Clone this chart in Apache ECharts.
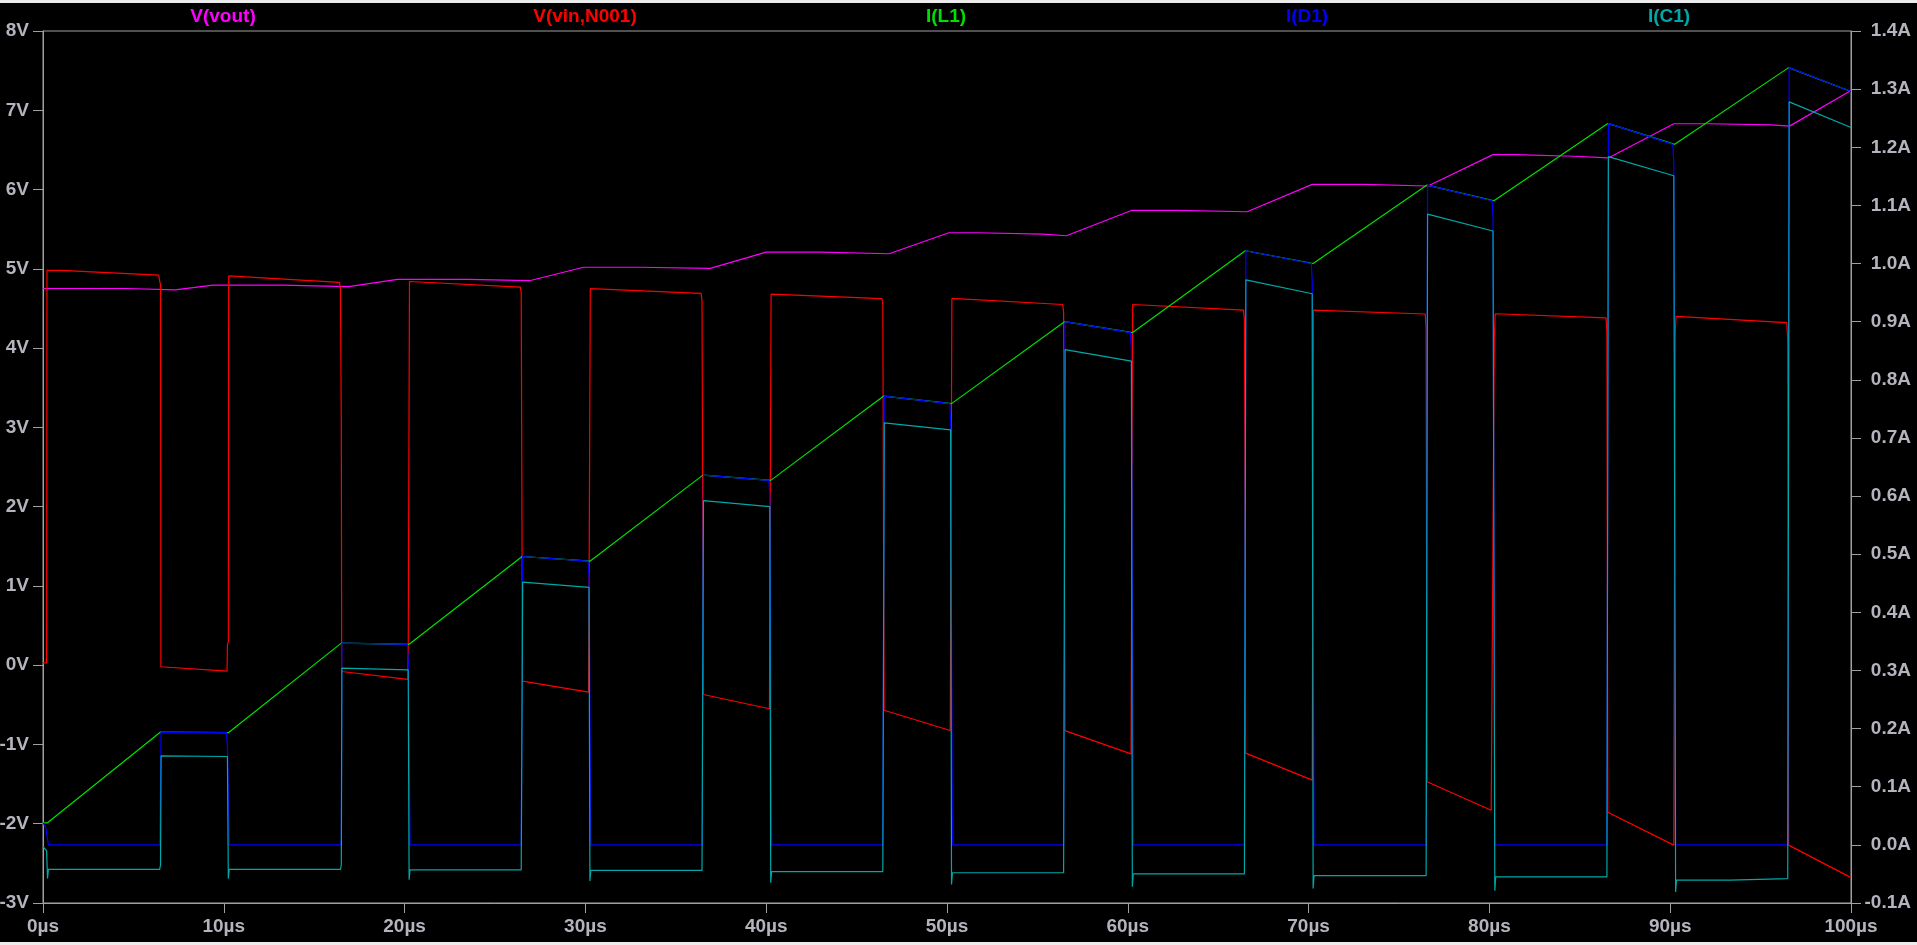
<!DOCTYPE html>
<html>
<head>
<meta charset="utf-8">
<script src="https://cdn.jsdelivr.net/npm/echarts@6/dist/echarts.min.js"></script>
<style>
  html, body { margin: 0; padding: 0; background: #ececec; width: 1917px; height: 945px; overflow: hidden; }
  #chart { position: absolute; left: 0; top: 3px; width: 1917px; height: 939px; background: #000; }
</style>
</head>
<body>
<div id="chart"></div>
<script>
// ---- Data (time in µs) ----
const xTicks = [0, 10, 20, 30, 40, 50, 60, 70, 80, 90, 100];
const traceNames = ['V(vout)', 'V(vin,N001)', 'I(L1)', 'I(D1)', 'I(C1)'];
const traceColors = ['#ff00ff', '#ff0000', '#00e000', '#0000ff', '#00a8a8'];

// V(vout) [t, V]
const vout = [[0,4.752],[4.6,4.752],[4.65,4.735],[7.3,4.735],[9.4,4.794],[13.2,4.794],[13.3,4.775],[16.9,4.775],
  [19.6,4.866],[23.5,4.866],[23.6,4.85],[26.9,4.85],[29.9,5.02],[33.0,5.02],[33.1,5.005],[36.9,5.005],
  [40.0,5.21],[43.0,5.21],[43.1,5.19],[46.8,5.19],[50.1,5.455],[51.7,5.455],[51.8,5.437],[55.3,5.437],
  [55.4,5.417],[56.6,5.417],[60.2,5.736],[62.7,5.736],[62.8,5.72],[66.6,5.72],[70.2,6.065],[73.0,6.065],
  [73.1,6.045],[76.6,6.045],[80.2,6.44],[81.4,6.44],[81.5,6.42],[84.7,6.42],[84.8,6.40],[86.6,6.40],
  [90.2,6.83],[92.2,6.83],[92.3,6.817],[95.6,6.817],[95.7,6.80],[96.6,6.80],[100,7.25]];

// V(vin,N001) [t, V]
const vinN001 = [[0,0.03],[0.2,0.03],[0.22,4.98],[1.0,4.98],[6.4,4.92],[6.45,4.85],[6.5,4.8],[6.52,-0.02],
  [10.18,-0.075],[10.2,0.25],[10.25,0.3],[10.27,4.91],
  [16.4,4.83],[16.45,4.75],[16.5,3.0],[16.52,-0.08],[20.18,-0.18],[20.2,0.2],[20.27,4.84],
  [26.4,4.77],[26.45,4.7],[26.52,-0.2],[30.18,-0.34],[30.27,4.75],
  [36.4,4.69],[36.45,4.6],[36.52,-0.37],[40.18,-0.55],[40.27,4.68],
  [46.4,4.625],[46.45,4.55],[46.52,-0.568],[50.18,-0.824],[50.27,4.626],
  [56.4,4.55],[56.45,4.45],[56.52,-0.826],[60.18,-1.118],[60.27,4.55],
  [66.4,4.48],[66.45,4.35],[66.52,-1.11],[70.2,-1.45],[70.27,4.48],
  [76.45,4.43],[76.5,4.25],[76.55,-1.47],[80.1,-1.83],[80.2,-1.83],[80.27,4.1],[80.32,4.433],
  [86.45,4.38],[86.5,4.2],[86.55,-1.855],[90.2,-2.27],[90.27,4.13],[90.32,4.40],
  [96.45,4.32],[96.5,4.1],[96.55,-2.27],[100,-2.68]];

// I(L1) [t, A]
const iL1 = [[0,0.038],[0.25,0.038],[6.5,0.194],[10.25,0.193],[16.5,0.347],[20.25,0.345],[26.5,0.496],[30.25,0.488],
  [36.5,0.636],[40.25,0.627],[46.5,0.772],[50.25,0.759],[56.5,0.900],[60.25,0.881],[66.5,1.022],[70.25,1.000],
  [76.55,1.135],[80.25,1.108],[86.55,1.241],[90.25,1.205],[96.55,1.337],[100,1.296]];

// I(D1) [t, A]
const iD1 = [[0,0.038],[0.15,0.03],[0.3,0.0],[6.45,0.0],[6.5,0.09],[6.53,0.194],[10.15,0.193],[10.2,0.17],[10.3,0.0],
  [16.45,0],[16.5,0.01],[16.53,0.347],[20.15,0.345],[20.2,0.32],[20.3,0],
  [26.45,0],[26.53,0.496],[30.15,0.488],[30.2,0.46],[30.3,0],
  [36.45,0],[36.53,0.636],[40.15,0.627],[40.2,0.6],[40.3,0],
  [46.45,0],[46.53,0.772],[50.15,0.759],[50.2,0.73],[50.3,0],
  [56.45,0],[56.53,0.9],[60.15,0.881],[60.2,0.85],[60.3,0],
  [66.45,0],[66.53,1.022],[70.15,1.0],[70.2,0.97],[70.3,0],
  [76.5,0],[76.58,1.135],[80.15,1.108],[80.2,1.08],[80.3,0],
  [86.5,0],[86.58,1.241],[90.15,1.205],[90.2,1.17],[90.3,0],
  [96.5,0],[96.58,1.337],[100,1.296]];

// I(C1) [t, A]
const iC1 = [[0,-0.003],[0.2,-0.01],[0.25,-0.058],[0.3,-0.042],[6.45,-0.042],[6.5,-0.035],[6.53,0.153],
  [10.2,0.152],[10.25,-0.058],[10.3,-0.042],[16.45,-0.042],[16.5,-0.035],[16.53,0.304],
  [20.2,0.301],[20.25,-0.06],[20.3,-0.043],[26.45,-0.043],[26.53,0.452],
  [30.2,0.443],[30.25,-0.062],[30.3,-0.044],[36.45,-0.044],[36.53,0.592],
  [40.2,0.582],[40.25,-0.065],[40.3,-0.046],[46.45,-0.046],[46.53,0.726],
  [50.2,0.714],[50.25,-0.068],[50.3,-0.048],[56.45,-0.048],[56.53,0.852],
  [60.2,0.832],[60.25,-0.072],[60.3,-0.05],[66.45,-0.05],[66.53,0.972],
  [70.2,0.948],[70.25,-0.075],[70.3,-0.053],[76.5,-0.053],[76.58,1.085],
  [80.2,1.056],[80.3,-0.079],[80.35,-0.055],[86.5,-0.055],[86.58,1.184],
  [90.2,1.151],[90.3,-0.081],[90.35,-0.0605],[93.3,-0.0605],[93.32,-0.058],[96.5,-0.058],[96.58,1.278],
  [100,1.234]];

const seriesData = [vout, vinN001, iL1, iD1, iC1];
const seriesAxis = [0, 0, 1, 1, 1];

// ---- Chart ----
const chart = echarts.init(document.getElementById('chart'), null, { renderer: 'canvas' });
const axisGrey = '#a0a0a0';
const labelGrey = '#b4b4be';
const font = "'Liberation Sans', Arial, sans-serif";
const titleX = [223, 585, 946, 1307, 1669];

const option = {
  animation: false,
  backgroundColor: '#000',
  grid: {
    left: 43, right: 66, top: 28, bottom: 39,
    show: true, borderColor: axisGrey, borderWidth: 1, backgroundColor: '#000',
    containLabel: false, outerBoundsMode: 'none'
  },
  graphic: traceNames.map((n, i) => ({
    type: 'text', x: titleX[i], y: 14,
    style: { text: n, fill: traceColors[i], font: "bold 19px " + font, textAlign: 'center', textVerticalAlign: 'middle' }
  })),
  xAxis: {
    type: 'value', min: 0, max: 100, interval: 10, position: 'bottom',
    axisLine: { show: true, onZero: false, lineStyle: { color: axisGrey, width: 1 } },
    axisTick: { show: true, length: 10, lineStyle: { color: axisGrey } },
    splitLine: { show: false },
    axisLabel: { color: labelGrey, fontFamily: font, fontWeight: 'bold', fontSize: 19, margin: 14,
      formatter: v => v + 'µs' }
  },
  yAxis: [
    {
      type: 'value', position: 'left', min: -3, max: 8, interval: 1,
      axisLine: { show: true, onZero: false, lineStyle: { color: axisGrey, width: 1 } },
      axisTick: { show: true, length: 10, lineStyle: { color: axisGrey } },
      splitLine: { show: false },
      axisLabel: { color: labelGrey, fontFamily: font, fontWeight: 'bold', fontSize: 19, margin: 14,
        showMinLabel: true, showMaxLabel: true, formatter: v => Math.round(v) + 'V' }
    },
    {
      type: 'value', position: 'right', min: -0.1, max: 1.4, interval: 0.1, alignTicks: false,
      axisLine: { show: true, onZero: false, lineStyle: { color: axisGrey, width: 1 } },
      axisTick: { show: true, length: 10, lineStyle: { color: axisGrey } },
      splitLine: { show: false },
      axisLabel: { color: labelGrey, fontFamily: font, fontWeight: 'bold', fontSize: 19, margin: 60, align: 'right',
        showMinLabel: true, showMaxLabel: true, formatter: v => v.toFixed(1) + 'A' }
    }
  ],
  series: traceNames.map((n, i) => ({
    name: n, type: 'line', yAxisIndex: seriesAxis[i], data: seriesData[i],
    showSymbol: false, symbol: 'none', clip: true,
    lineStyle: { color: traceColors[i], width: 1.2 },
    itemStyle: { color: traceColors[i] },
    emphasis: { disabled: true }
  }))
};
chart.setOption(option);
</script>
</body>
</html>
